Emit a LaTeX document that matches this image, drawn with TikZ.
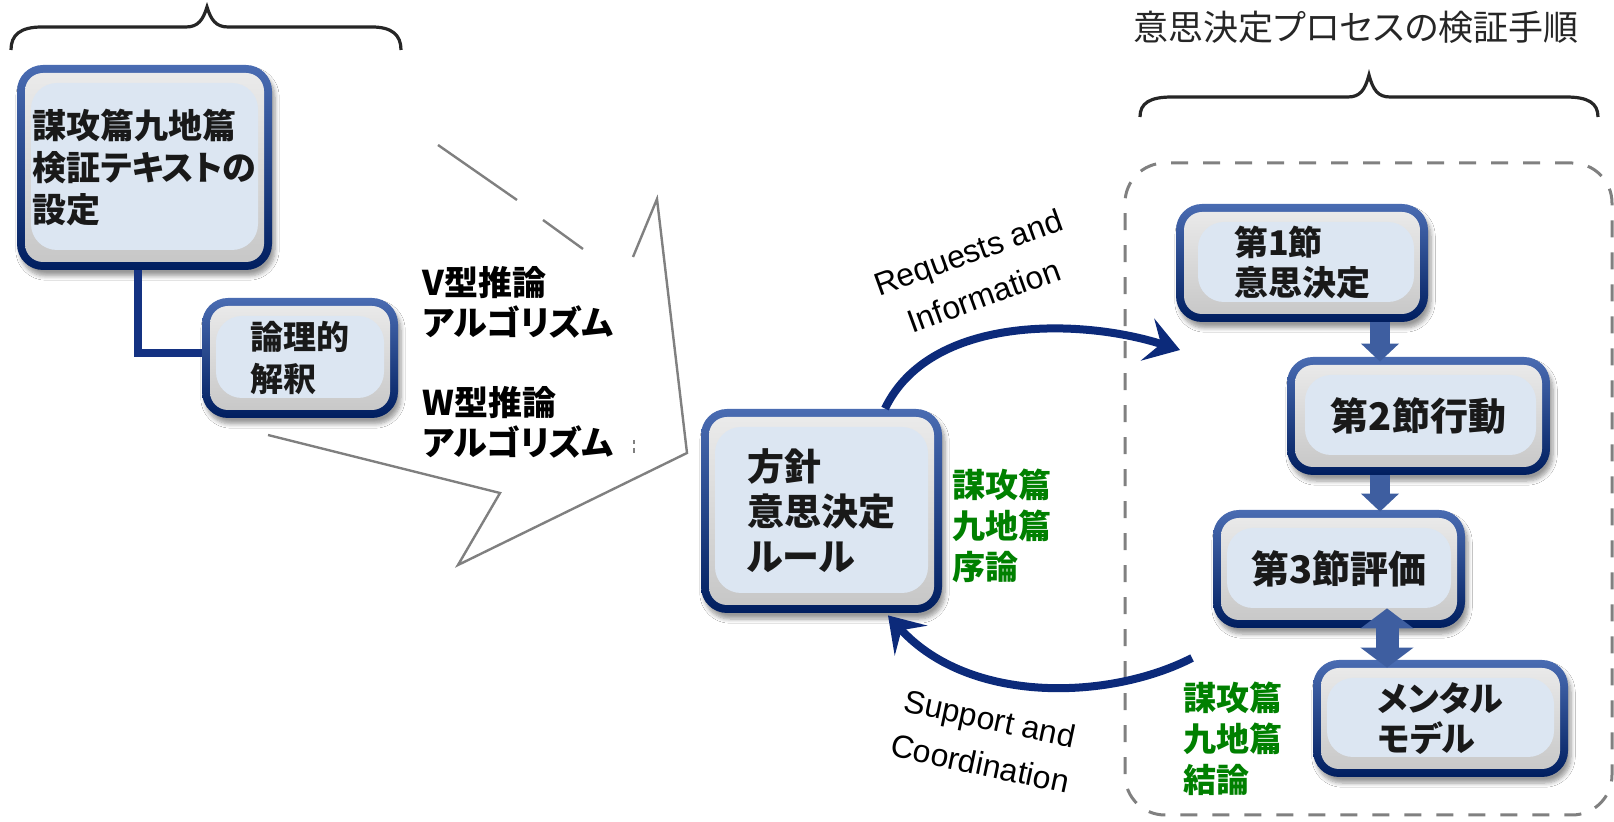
\documentclass[tikz,border=0pt]{standalone}
\usepackage{fontspec}
\setmainfont{Liberation Sans}
\newfontfamily\jp[RawFeature=+palt]{Noto Sans CJK JP}
\usetikzlibrary{arrows.meta,calc,shadows.blur}
\definecolor{navyA}{RGB}{74,108,178}
\definecolor{navyB}{RGB}{0,30,95}
\definecolor{boxfill}{RGB}{220,230,242}
\definecolor{arcblue}{RGB}{12,42,122}
\definecolor{blockblue}{RGB}{62,94,160}
\definecolor{grn}{RGB}{0,128,0}
\definecolor{callgray}{RGB}{128,128,128}
\tikzset{
  lgray/.store in=\boxli, lgray=7pt,
  box/.style={shape=rectangle, rounded corners=13pt, inner sep=0pt,
    top color=navyA, bottom color=navyB,
    blur shadow={shadow xshift=1.5pt, shadow yshift=-3pt, shadow blur steps=6, shadow opacity=40},
    path picture={
      \path[top color=gray!15, bottom color=gray!45, rounded corners=9pt]
        ([shift={(4pt,-4pt)}]path picture bounding box.north west) rectangle
        ([shift={(-4pt,4pt)}]path picture bounding box.south east);
      \fill[boxfill]
        ([shift={(\boxli,-9pt)}]path picture bounding box.north west) rectangle
        ([shift={(-7pt,10pt)}]path picture bounding box.south east);
    },
    align=left, text=black!90},
  boxtext/.style 2 args={font=\jp\bfseries\fontsize{#1}{#2}\selectfont},
  conn/.style={draw={rgb,255:red,20;green,50;blue,130}, line width=4pt},
  arcarrow/.style={draw=arcblue, line width=4pt, -{Stealth[length=17pt,width=22pt,inset=7pt]}},
  blk/.style={draw=blockblue, line width=10pt, -{Triangle[width=18.5pt,length=9pt]}},
  dblk/.style={draw=blockblue, line width=11.5pt, {Triangle[width=26pt,length=10pt]}-{Triangle[width=26pt,length=10pt]}},
  callout/.style={draw=callgray, line width=1.2pt},
  brace/.style={draw=black!85, line width=1.6pt},
  dashbox/.style={draw=callgray, line width=1.5pt, dash pattern=on 8.5pt off 7.5pt, rounded corners=20pt, inner sep=0pt},
  grntext/.style={font=\jp\bfseries\fontsize{16.5}{20.5}\selectfont, text=grn, align=left, inner sep=0pt},
  lbl/.style={font=\fontsize{16}{23}\selectfont, align=center, inner sep=0pt},
  calltext/.style={font=\jp\bfseries\fontsize{17}{20}\selectfont, align=left, inner sep=0pt},
}
\begin{document}
\begin{tikzpicture}[x=0.5pt,y=-0.5pt]
\fill[white] (0,0) rectangle (1614,822);
\useasboundingbox (0,0) rectangle (1614,822);

% braces
\draw[brace] (11,50) .. controls (11,35) and (20,27) .. (42,27) -- (186,27)
  .. controls (198,27) and (203,20) .. (207,7) .. controls (211,20) and (216,27) .. (228,27)
  -- (372,27) .. controls (392,27) and (401,35) .. (401,50);
\draw[brace] (1140,117) .. controls (1140,103) and (1150,97) .. (1172,97) -- (1348,97)
  .. controls (1360,97) and (1365,90) .. (1369,75) .. controls (1373,90) and (1378,97) .. (1390,97)
  -- (1566,97) .. controls (1588,97) and (1598,103) .. (1598,117);

% title
\node[font=\jp\fontsize{17.5}{21}\selectfont, text=black!85, inner sep=0pt] (title) at (1356,27) {意思決定プロセスの検証手順};

% dashed container
\node[dashbox, minimum width=243.5pt, minimum height=326pt] (proc) at (1368.5,489) {};

% callout outline
\draw[callout] (438,145) -- (517,200);
\draw[callout] (543,220) -- (583,249);
\draw[callout] (633,257) -- (657,199) -- (687,453) -- (458,565) -- (500,493) -- (268,435);
\draw[callgray, line width=1pt] (634,440) -- (634,444) (634,448) -- (634,453);

% callout text
\node[calltext, anchor=west] (ctext) at (422,362) {V型推論\\アルゴリズム\\[20pt]W型推論\\アルゴリズム};

% left boxes
\node[box, boxtext={17}{21}, minimum width=127.5pt, minimum height=102.5pt] (b1) at (144.5,167.5) {謀攻篇九地篇\\検証テキストの\\設定};
\node[box, boxtext={16.5}{21}, minimum width=98pt, minimum height=60pt] (b2) at (300,358) {論理的\\解釈};
\draw[conn] ($(b1.south)+(-6.5,0)$) |- ($(b2.west)+(0,-5)$);

% center box
\node[box, boxtext={18.5}{22.5}, minimum width=120.5pt, minimum height=102pt] (cbox) at (821.5,511) {方針\\意思決定\\ルール};

% right boxes
\node[box, lgray=11pt, boxtext={17}{20}, minimum width=126pt, minimum height=59pt] (s1) at (1302,263) {第1節\\意思決定};
\node[box, lgray=9pt, boxtext={19}{22}, minimum width=131.5pt, minimum height=59pt] (s2) at (1418.5,416) {第2節行動};
\node[box, boxtext={19}{22}, minimum width=126pt, minimum height=59pt] (s3) at (1339,569) {第3節評価};
\node[box, boxtext={17}{20}, minimum width=127.5pt, minimum height=58.5pt] (mm) at (1440.5,718.5) {メンタル\\モデル};

% block arrows
\draw[blk] ($(s1.south)+(78,0)$) -- ($(s2.north)+(-38.5,5)$);
\draw[blk] ($(s2.south)+(-38.5,0)$) -- ($(s3.north)+(41,2)$);
\draw[dblk] ($(s3.south)+(48,-20)$) -- ($(mm.north)+(-53.5,8)$);

% arcs
\coordinate (reqend) at (1180,350);
\coordinate (supstart) at (1192,658);
\draw[arcarrow] ($(cbox.north)+(63.5,0)$) .. controls (930,315) and (1080,318) .. (reqend);
\draw[arcarrow] (supstart) .. controls (1110,700) and (970,705) .. ($(cbox.south)+(66.5,2)$);

% labels
\node[lbl, rotate=20] (req) at (976,274) {Requests and\\Information};
\node[lbl, rotate=-12] (sup) at (985,741) {Support and\\Coordination};
\node[grntext, anchor=west] (g1) at (952,526) {謀攻篇\\九地篇\\序論};
\node[grntext, anchor=west] (g2) at (1183,739) {謀攻篇\\九地篇\\結論};
\end{tikzpicture}
\end{document}
